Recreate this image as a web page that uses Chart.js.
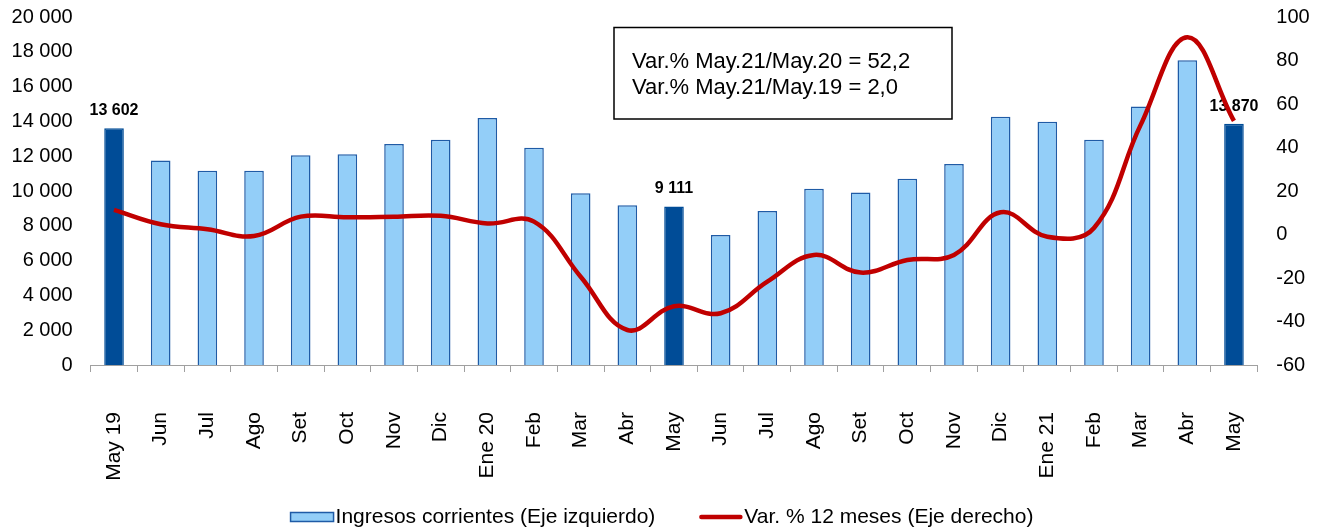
<!DOCTYPE html>
<html>
<head>
<meta charset="utf-8">
<script src="https://cdn.jsdelivr.net/npm/chart.js@4"></script>
<style>
  html, body { margin: 0; padding: 0; background: #fff; }
  #wrap { width: 1324px; height: 528px; }
</style>
</head>
<body>
<div id="wrap"><canvas id="chart"></canvas></div>
<script>
const months = ['May 19', 'Jun', 'Jul', 'Ago', 'Set', 'Oct', 'Nov', 'Dic', 'Ene 20', 'Feb', 'Mar', 'Abr',
                'May', 'Jun', 'Jul', 'Ago', 'Set', 'Oct', 'Nov', 'Dic', 'Ene 21', 'Feb', 'Mar', 'Abr', 'May'];
const ingresos = [13602, 11760, 11170, 11170, 12050, 12110, 12700, 12950, 14200, 12490, 9870, 9180,
                  9111, 7470, 8850, 10130, 9920, 10710, 11550, 14270, 13980, 12950, 14850, 17510, 13870];
const varAnual = [11.3, 4.7, 2.4, -0.7, 8.2, 7.9, 8.2, 8.6, 5.1, 5.9, -19.4, -43.9,
                  -33.0, -36.2, -21.7, -9.4, -17.5, -11.7, -9.4, 10.2, -1.0, 3.0, 50.4, 90.7, 52.2];
const highlighted = [0, 12, 24];
const noteLines = ['Var.% May.21/May.20 = 52,2', 'Var.% May.21/May.19 = 2,0'];
const legendNames = ['Ingresos corrientes (Eje izquierdo)', 'Var. % 12 meses (Eje derecho)'];

const FONT = "'Liberation Sans', Arial, sans-serif";
const lightBlue = '#93CEF8';
const lightBorder = '#1F5BA6';
const darkBlue = '#004C97';
const red = '#C00000';

function fmt(v) {
    return String(v).replace(/\B(?=(\d{3})+(?!\d))/g, ' ');
}

// labels over the highlighted bars, drawn before the line so it passes on top
const barLabels = {
    id: 'barLabels',
    afterDatasetDraw(chart, args) {
        if (args.index !== 0) return;
        const ctx = chart.ctx;
        const meta = chart.getDatasetMeta(0);
        ctx.save();
        ctx.font = 'bold 16px ' + FONT;
        ctx.fillStyle = '#000';
        ctx.textAlign = 'center';
        ctx.textBaseline = 'alphabetic';
        highlighted.forEach(i => {
            const bar = meta.data[i];
            ctx.fillText(fmt(ingresos[i]), bar.x, bar.y - 13);
        });
        ctx.restore();
    }
};

const noteBox = {
    id: 'noteBox',
    afterDraw(chart) {
        const ctx = chart.ctx;
        ctx.save();
        ctx.strokeStyle = '#000';
        ctx.lineWidth = 1.5;
        ctx.strokeRect(614, 27.5, 338, 91.5);
        ctx.font = '22px ' + FONT;
        ctx.fillStyle = '#000';
        ctx.textAlign = 'left';
        ctx.textBaseline = 'alphabetic';
        ctx.fillText(noteLines[0], 632, 68);
        ctx.fillText(noteLines[1], 632, 94);
        ctx.restore();
    }
};

// legend with Excel-like spacing: marker, small gap, text
const bottomLegend = {
    id: 'bottomLegend',
    afterDraw(chart) {
        const ctx = chart.ctx;
        const y = 517;
        const markW = 43, gap = 2, itemGap = 44;
        ctx.save();
        ctx.font = '21px ' + FONT;
        const w0 = ctx.measureText(legendNames[0]).width;
        const w1 = ctx.measureText(legendNames[1]).width;
        const total = markW + gap + w0 + itemGap + markW + gap + w1;
        let x = (chart.width - total) / 2;

        ctx.fillStyle = lightBlue;
        ctx.strokeStyle = lightBorder;
        ctx.lineWidth = 1.5;
        ctx.fillRect(x, y - 4.5, markW, 9);
        ctx.strokeRect(x, y - 4.5, markW, 9);
        ctx.fillStyle = '#000';
        ctx.textAlign = 'left';
        ctx.textBaseline = 'middle';
        ctx.fillText(legendNames[0], x + markW + gap, y);

        x += markW + gap + w0 + itemGap;
        ctx.strokeStyle = red;
        ctx.lineWidth = 4.5;
        ctx.lineCap = 'round';
        ctx.beginPath();
        ctx.moveTo(x + 2, y);
        ctx.lineTo(x + markW - 2, y);
        ctx.stroke();
        ctx.fillText(legendNames[1], x + markW + gap, y);
        ctx.restore();
    }
};

// fixed axis boxes so the plot area sits where the original has it
function fixVertical(width) {
    return scale => {
        scale.width = width;
        scale.paddingTop = 0;
        scale.paddingBottom = 0;
    };
}

const ctx = document.getElementById('chart').getContext('2d');
new Chart(ctx, {
    type: 'bar',
    data: {
        labels: months,
        datasets: [{
            type: 'bar',
            label: legendNames[0],
            data: ingresos,
            yAxisID: 'y',
            order: 1,
            backgroundColor: ingresos.map((v, i) => highlighted.includes(i) ? darkBlue : lightBlue),
            borderColor: ingresos.map((v, i) => highlighted.includes(i) ? darkBlue : lightBorder),
            borderWidth: 1.5,
            categoryPercentage: 1,
            barPercentage: 0.42
        }, {
            type: 'line',
            label: legendNames[1],
            data: varAnual,
            yAxisID: 'y1',
            order: 0,
            borderColor: red,
            backgroundColor: red,
            borderWidth: 4.5,
            pointRadius: 0,
            tension: 0.4,
            fill: false
        }]
    },
    options: {
        responsive: true,
        maintainAspectRatio: false,
        animation: false,
        layout: { autoPadding: false, padding: { top: 17, bottom: 38, left: 0, right: 0 } },
        scales: {
            x: {
                offset: true,
                grid: {
                    display: true,
                    drawOnChartArea: false,
                    drawTicks: true,
                    tickLength: 7,
                    color: '#A0A0A0',
                    offset: true
                },
                border: { display: true, color: '#A0A0A0', width: 1 },
                ticks: {
                    autoSkip: false,
                    minRotation: 90,
                    maxRotation: 90,
                    padding: 40,
                    color: '#000',
                    font: { family: FONT, size: 21 }
                },
                afterFit(scale) { scale.height = 125; }
            },
            y: {
                position: 'left',
                min: 0,
                max: 20000,
                grid: { display: false, drawTicks: false },
                border: { display: false },
                ticks: {
                    stepSize: 2000,
                    padding: 18,
                    color: '#000',
                    font: { family: FONT, size: 20 },
                    callback: v => fmt(v)
                },
                afterFit: fixVertical(90.7)
            },
            y1: {
                position: 'right',
                min: -60,
                max: 100,
                grid: { display: false, drawTicks: false },
                border: { display: false },
                ticks: {
                    stepSize: 20,
                    padding: 19,
                    color: '#000',
                    font: { family: FONT, size: 20 }
                },
                afterFit: fixVertical(66.7)
            }
        },
        plugins: {
            tooltip: { enabled: false },
            legend: { display: false }
        }
    },
    plugins: [barLabels, noteBox, bottomLegend]
});
</script>
</body>
</html>
